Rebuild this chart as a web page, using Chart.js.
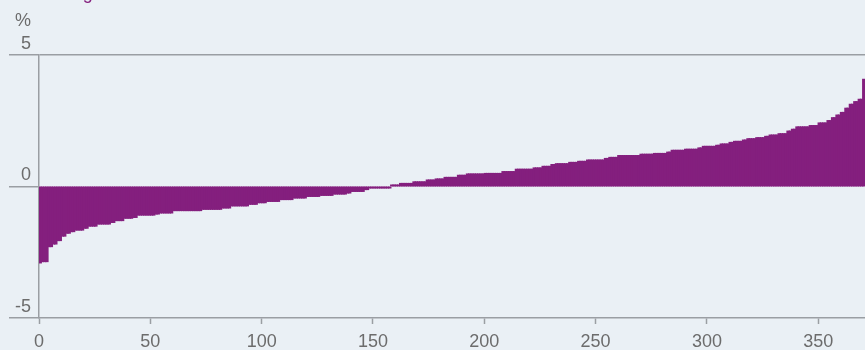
<!DOCTYPE html>
<html>
<head>
<meta charset="utf-8">
<script src="https://cdn.jsdelivr.net/npm/chart.js@4/dist/chart.umd.min.js"></script>
<style>
  html, body { margin: 0; padding: 0; background: #eaf0f5; }
  canvas { display: block; background: #eaf0f5; }
</style>
</head>
<body>
<canvas id="changeChart" width="865" height="350"></canvas>
<script>
// sorted values, one bar each
const changeValues = [
  -2.90, -2.85, -2.85, -2.85, -2.28, -2.28, -2.18, -2.18, -2.05, -2.05,
  -1.88, -1.88, -1.77, -1.77, -1.71, -1.71, -1.65, -1.65, -1.65, -1.65,
  -1.58, -1.58, -1.50, -1.50, -1.50, -1.50, -1.42, -1.42, -1.42, -1.42,
  -1.42, -1.42, -1.36, -1.36, -1.29, -1.29, -1.29, -1.29, -1.20, -1.20,
  -1.20, -1.20, -1.17, -1.17, -1.08, -1.08, -1.08, -1.08, -1.08, -1.08,
  -1.08, -1.08, -1.04, -1.04, -1.00, -1.00, -1.00, -1.00, -1.00, -1.00,
  -0.91, -0.91, -0.91, -0.91, -0.91, -0.91, -0.91, -0.91, -0.91, -0.91,
  -0.91, -0.91, -0.91, -0.86, -0.86, -0.86, -0.86, -0.86, -0.86, -0.86,
  -0.86, -0.86, -0.81, -0.81, -0.81, -0.81, -0.73, -0.73, -0.73, -0.73,
  -0.73, -0.73, -0.73, -0.73, -0.67, -0.67, -0.67, -0.67, -0.61, -0.61,
  -0.61, -0.61, -0.56, -0.56, -0.56, -0.56, -0.56, -0.56, -0.49, -0.49,
  -0.49, -0.49, -0.49, -0.49, -0.43, -0.43, -0.43, -0.43, -0.43, -0.43,
  -0.37, -0.37, -0.37, -0.37, -0.37, -0.37, -0.33, -0.33, -0.33, -0.33,
  -0.33, -0.33, -0.28, -0.28, -0.28, -0.28, -0.28, -0.28, -0.24, -0.24,
  -0.18, -0.18, -0.18, -0.18, -0.18, -0.18, -0.11, -0.11, -0.05, -0.05,
  -0.05, -0.05, -0.05, -0.05, -0.05, -0.05, -0.05, -0.05, 0.05, 0.05,
  0.05, 0.05, 0.11, 0.11, 0.11, 0.11, 0.11, 0.11, 0.17, 0.17,
  0.17, 0.17, 0.17, 0.17, 0.24, 0.24, 0.24, 0.24, 0.28, 0.28,
  0.28, 0.28, 0.34, 0.34, 0.34, 0.34, 0.34, 0.34, 0.42, 0.42,
  0.42, 0.42, 0.47, 0.47, 0.47, 0.47, 0.47, 0.47, 0.47, 0.47,
  0.49, 0.49, 0.49, 0.49, 0.49, 0.49, 0.49, 0.49, 0.56, 0.56,
  0.56, 0.56, 0.56, 0.56, 0.65, 0.65, 0.65, 0.65, 0.65, 0.65,
  0.65, 0.65, 0.70, 0.70, 0.70, 0.70, 0.76, 0.76, 0.76, 0.76,
  0.83, 0.83, 0.86, 0.86, 0.86, 0.86, 0.86, 0.86, 0.91, 0.91,
  0.91, 0.91, 0.95, 0.95, 0.95, 0.95, 1.00, 1.00, 1.00, 1.00,
  1.00, 1.00, 1.00, 1.00, 1.06, 1.06, 1.10, 1.10, 1.10, 1.10,
  1.17, 1.17, 1.17, 1.17, 1.17, 1.17, 1.17, 1.17, 1.17, 1.17,
  1.22, 1.22, 1.22, 1.22, 1.22, 1.22, 1.25, 1.25, 1.25, 1.25,
  1.25, 1.25, 1.30, 1.30, 1.37, 1.37, 1.37, 1.37, 1.37, 1.37,
  1.41, 1.41, 1.41, 1.41, 1.41, 1.41, 1.46, 1.46, 1.52, 1.52,
  1.52, 1.52, 1.52, 1.52, 1.56, 1.56, 1.61, 1.61, 1.61, 1.61,
  1.67, 1.67, 1.71, 1.71, 1.71, 1.71, 1.76, 1.76, 1.81, 1.81,
  1.81, 1.81, 1.85, 1.85, 1.85, 1.85, 1.90, 1.90, 1.95, 1.95,
  1.95, 1.95, 2.00, 2.00, 2.00, 2.00, 2.10, 2.10, 2.17, 2.17,
  2.26, 2.26, 2.26, 2.26, 2.26, 2.26, 2.31, 2.31, 2.31, 2.31,
  2.41, 2.41, 2.41, 2.41, 2.50, 2.50, 2.61, 2.61, 2.71, 2.71,
  2.81, 2.81, 2.97, 2.97, 3.12, 3.12, 3.22, 3.22, 3.31, 3.31,
  4.07
];
const xTickStep = 50;
const yTicks = [-5, 0, 5];
const unitLabel = '%';
const headerText = 'Average';

const purple = '#841f7e';
const axisGrey = '#9a9ea3';
const textGrey = '#6c6c6c';
const fontFamily = '"Liberation Sans", Arial, sans-serif';

const extraText = {
  id: 'extraText',
  afterDraw(chart) {
    const ctx = chart.ctx;
    ctx.save();
    ctx.font = '18px ' + fontFamily;
    ctx.fillStyle = textGrey;
    ctx.textAlign = 'right';
    ctx.textBaseline = 'middle';
    ctx.fillText(unitLabel, 31, 21);
    ctx.fillStyle = purple;
    ctx.textAlign = 'left';
    ctx.textBaseline = 'alphabetic';
    ctx.fillText(headerText, 36, -1);
    ctx.restore();
  },
};

const points = changeValues.map((v, i) => ({ x: i + 0.5, y: v }));

new Chart(document.getElementById('changeChart'), {
  type: 'bar',
  data: {
    datasets: [
      {
        data: points,
        backgroundColor: purple,
        borderWidth: 0,
        inflateAmount: 0.7,
        barPercentage: 1,
        categoryPercentage: 1,
      },
    ],
  },
  options: {
    responsive: false,
    animation: false,
    layout: { padding: { top: 55, right: 0, left: 0, bottom: 0 } },
    plugins: { legend: { display: false }, tooltip: { enabled: false } },
    scales: {
      x: {
        type: 'linear',
        offset: false,
        min: 0,
        max: changeValues.length,
        afterFit: (scale) => { scale.height = 32; },
        ticks: {
          stepSize: xTickStep,
          includeBounds: false,
          color: textGrey,
          padding: 7,
          font: { family: fontFamily, size: 18 },
        },
        grid: { offset: false, drawOnChartArea: false, tickLength: 6, tickColor: axisGrey, tickWidth: 1.5 },
        border: { color: axisGrey, width: 1.5 },
      },
      y: {
        min: yTicks[0],
        max: yTicks[yTicks.length - 1],
        afterFit: (scale) => { scale.width = 39; },
        afterBuildTicks: (scale) => { scale.ticks = yTicks.map((v) => ({ value: v })); },
        ticks: {
          color: textGrey,
          padding: -22,
          labelOffset: -11,
          font: { family: fontFamily, size: 18 },
        },
        grid: {
          color: (c) => (c.tick && c.tick.value === yTicks[yTicks.length - 1] ? axisGrey : 'transparent'),
          tickColor: axisGrey,
          tickLength: 30,
          lineWidth: 1.5,
        },
        border: { color: axisGrey, width: 1.5 },
      },
    },
  },
  plugins: [extraText],
});
</script>
</body>
</html>
